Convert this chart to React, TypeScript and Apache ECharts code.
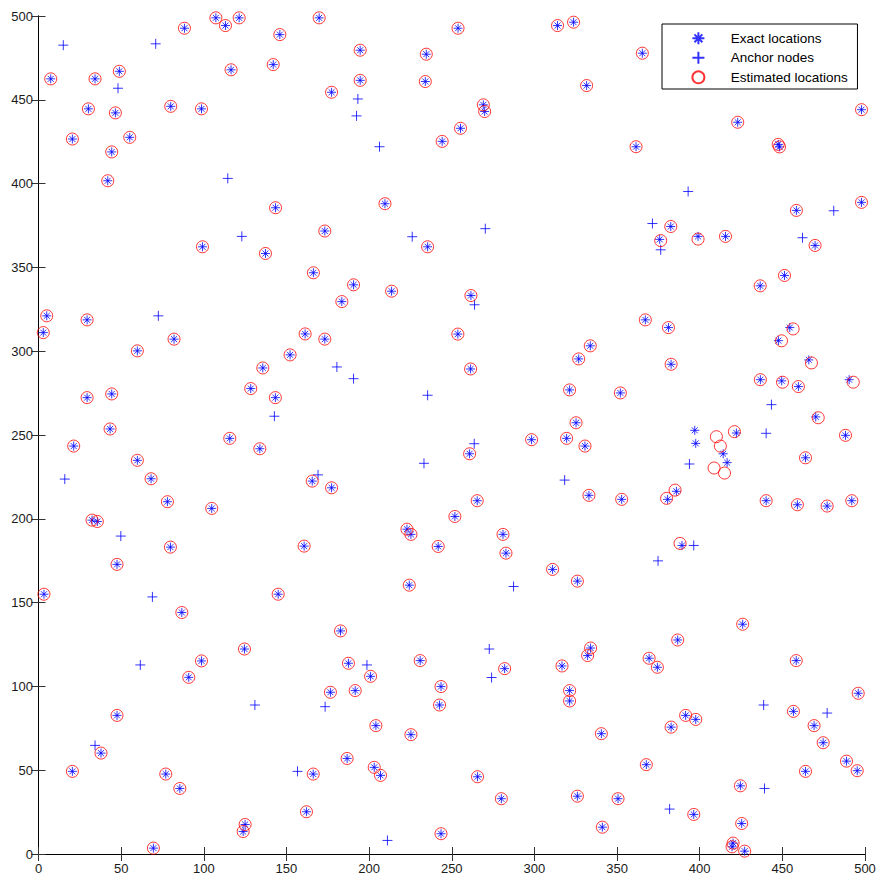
import { useEffect, useRef } from "react";
import * as echarts from "echarts";

const xTicks = [0, 50, 100, 150, 200, 250, 300, 350, 400, 450, 500];
const yTicks = [0, 50, 100, 150, 200, 250, 300, 350, 400, 450, 500];

const exactLocations: number[][] = [
  [7.4, 462.5], [34.2, 462.5], [48.9, 467.0], [30.2, 444.6], [46.5, 442.2], [20.5, 426.6], [55.2, 427.6], [44.3, 418.9], [41.9, 401.7], [88.3, 492.7],
  [80.0, 446.1], [98.6, 444.6], [107.3, 498.9], [113.1, 494.3], [121.4, 498.9], [146.0, 488.9], [116.5, 467.9], [142.0, 471.0], [143.4, 385.6], [99.2, 362.3],
  [137.3, 358.3], [166.3, 346.8], [169.8, 498.9], [194.6, 479.6], [194.6, 461.6], [177.3, 454.5], [234.6, 477.2], [234.0, 460.9], [253.8, 492.7], [269.1, 447.0],
  [269.9, 443.0], [255.3, 433.0], [244.2, 425.2], [314.0, 494.3], [323.7, 496.3], [331.6, 458.5], [209.6, 388.0], [173.2, 371.7], [235.4, 362.3], [190.6, 339.6],
  [213.6, 335.8], [261.6, 333.2], [365.3, 477.8], [497.9, 444.1], [423.0, 436.6], [361.5, 422.0], [447.5, 423.4], [448.3, 421.9], [497.9, 388.8], [382.5, 374.4],
  [375.8, 366.7], [399.0, 368.5], [415.6, 368.5], [458.5, 384.0], [469.8, 363.1], [451.3, 345.2], [436.6, 339.0],
  [5.0, 321.1], [2.9, 311.1], [29.4, 318.7], [82.0, 307.2], [59.8, 300.2], [29.4, 272.3], [44.3, 274.5], [43.3, 253.6], [21.3, 243.4], [59.8, 234.9],
  [68.1, 223.9], [78.0, 210.2], [32.4, 199.2], [35.6, 198.4], [47.5, 172.8], [79.8, 183.1], [104.8, 206.2], [115.7, 248.0], [128.4, 277.7], [135.7, 290.0],
  [143.3, 272.3], [133.9, 241.8], [152.2, 297.8], [161.3, 310.3], [165.6, 222.5], [160.7, 183.7],
  [183.5, 329.6], [173.2, 307.2], [253.7, 310.2], [261.4, 289.4], [333.8, 303.2], [326.8, 295.4], [321.3, 276.9], [325.2, 257.3], [298.3, 247.2], [319.5, 248.0],
  [330.6, 243.4], [260.8, 238.8], [177.3, 218.5], [333.0, 214.0], [265.4, 210.8], [251.9, 201.4], [222.9, 193.8], [225.3, 190.7], [241.8, 183.5], [281.0, 190.7],
  [282.8, 179.5], [311.0, 169.8], [326.0, 162.8], [224.3, 160.4],
  [367.1, 318.7], [381.1, 314.1], [382.7, 292.2], [352.0, 275.1], [454.5, 314.1], [447.6, 306.3], [466.0, 294.8], [436.7, 283.0], [449.6, 282.3], [459.7, 278.9],
  [490.4, 283.0], [470.2, 260.8], [488.2, 249.8], [464.0, 236.4], [422.2, 251.2], [397.0, 252.8], [397.6, 245.0], [414.2, 238.8], [416.6, 233.5], [352.8, 211.6],
  [380.6, 211.6], [385.9, 216.4], [440.2, 210.8], [459.1, 208.4], [477.1, 207.6], [492.0, 210.8], [389.3, 184.1],
  [3.3, 155.0], [86.7, 144.1], [145.0, 155.0], [124.6, 122.3], [98.6, 115.2], [90.9, 105.4], [47.5, 82.7], [37.8, 60.2], [20.5, 49.3], [77.0, 47.7],
  [85.5, 39.1], [69.5, 3.5], [125.0, 17.6], [123.8, 13.4], [166.2, 47.7], [162.1, 25.2],
  [182.7, 133.1], [187.5, 113.8], [200.9, 106.0], [176.6, 96.5], [191.6, 97.5], [230.9, 115.4], [243.5, 99.9], [242.6, 88.9], [282.0, 110.6], [334.0, 122.9],
  [332.2, 118.4], [316.7, 112.2], [321.3, 97.5], [321.3, 91.3], [340.5, 71.8], [204.1, 76.6], [225.3, 71.2], [186.7, 57.0], [203.1, 51.7], [206.9, 46.9],
  [265.6, 46.1], [280.0, 33.0], [326.0, 34.5], [243.5, 12.1], [341.1, 16.0],
  [350.6, 33.0], [369.4, 116.8], [374.4, 111.4], [386.7, 127.7], [426.0, 137.1], [391.5, 82.7], [397.6, 80.3], [382.7, 75.7], [367.7, 53.3], [396.4, 23.6],
  [424.6, 40.7], [425.4, 18.2], [420.2, 6.5], [419.6, 4.3], [427.2, 1.7], [458.4, 115.4], [456.7, 85.1], [469.2, 76.6], [474.7, 66.4], [488.8, 55.4],
  [464.0, 49.3], [495.3, 49.7], [495.9, 95.9],
];

const anchorNodes: number[][] = [
  [15.0, 482.6], [48.1, 456.9], [70.9, 483.4], [114.5, 403.1], [123.0, 368.5],
  [193.2, 450.5], [192.4, 440.4], [206.3, 422.0], [226.1, 368.3], [270.3, 373.1],
  [393.0, 395.3], [371.4, 376.2], [376.4, 360.5], [481.1, 383.8], [462.2, 367.7],
  [15.9, 223.7], [72.5, 321.1], [49.8, 189.7], [142.7, 261.2], [169.1, 226.2],
  [263.8, 327.7], [180.5, 290.6], [190.6, 283.6], [235.4, 273.7], [263.6, 244.8], [233.2, 233.1], [318.3, 223.1],
  [443.4, 268.1], [440.2, 251.0], [393.8, 232.7], [396.4, 184.1], [374.8, 174.9],
  [68.9, 153.4], [61.6, 112.8], [130.9, 88.9], [34.2, 64.8], [156.7, 49.3], [173.4, 87.9],
  [287.4, 159.6], [198.7, 112.8], [272.7, 122.3], [274.1, 105.3], [211.1, 8.1],
  [381.8, 26.8], [438.7, 88.9], [439.2, 39.1], [477.1, 84.1],
];

const estimatedLocations: number[][] = [
  [7.4, 462.5], [34.2, 462.5], [48.9, 467.0], [30.2, 444.6], [46.5, 442.2], [20.5, 426.6], [55.2, 427.6], [44.3, 418.9], [41.9, 401.7], [88.3, 492.7],
  [80.0, 446.1], [98.6, 444.6], [107.3, 498.9], [113.1, 494.3], [121.4, 498.9], [146.0, 488.9], [116.5, 467.9], [142.0, 471.0], [143.4, 385.6], [99.2, 362.3],
  [137.3, 358.3], [166.3, 346.8], [169.8, 498.9], [194.6, 479.6], [194.6, 461.6], [177.3, 454.5], [234.6, 477.2], [234.0, 460.9], [253.8, 492.7], [269.1, 447.0],
  [269.9, 443.0], [255.3, 433.0], [244.2, 425.2], [314.0, 494.3], [323.7, 496.3], [331.6, 458.5], [209.6, 388.0], [173.2, 371.7], [235.4, 362.3], [190.6, 339.6],
  [213.6, 335.8], [261.6, 333.2], [365.3, 477.8], [497.9, 444.1], [423.0, 436.6], [361.5, 422.0], [447.5, 423.4], [448.3, 421.9], [497.9, 388.8], [382.5, 374.4],
  [376.4, 366.0], [399.0, 366.9], [415.6, 368.5], [458.5, 384.0], [469.8, 363.1], [451.3, 345.2], [436.6, 339.0],
  [5.0, 321.1], [2.9, 311.1], [29.4, 318.7], [82.0, 307.2], [59.8, 300.2], [29.4, 272.3], [44.3, 274.5], [43.3, 253.6], [21.3, 243.4], [59.8, 234.9],
  [68.1, 223.9], [78.0, 210.2], [32.4, 199.2], [35.6, 198.4], [47.5, 172.8], [79.8, 183.1], [104.8, 206.2], [115.7, 248.0], [128.4, 277.7], [135.7, 290.0],
  [143.3, 272.3], [133.9, 241.8], [152.2, 297.8], [161.3, 310.3], [165.6, 222.5], [160.7, 183.7],
  [183.5, 329.6], [173.2, 307.2], [253.7, 310.2], [261.4, 289.4], [333.8, 303.2], [326.8, 295.4], [321.3, 276.9], [325.2, 257.3], [298.3, 247.2], [319.5, 248.0],
  [330.6, 243.4], [260.8, 238.8], [177.3, 218.5], [333.0, 214.0], [265.4, 210.8], [251.9, 201.4], [222.9, 193.8], [225.3, 190.7], [241.8, 183.5], [281.0, 190.7],
  [282.8, 179.5], [311.0, 169.8], [326.0, 162.8], [224.3, 160.4],
  [367.1, 318.7], [381.1, 314.1], [382.7, 292.2], [352.0, 275.1], [456.5, 313.3], [449.5, 306.2], [467.6, 293.0], [436.7, 283.0], [450.1, 281.5], [459.7, 278.9],
  [492.9, 281.5], [471.7, 260.3], [488.2, 249.8], [464.0, 236.4], [421.0, 252.0], [410.1, 249.0], [412.5, 243.4], [408.7, 230.3], [415.0, 227.3], [352.8, 211.6],
  [380.0, 212.2], [385.1, 217.1], [440.2, 210.8], [459.1, 208.4], [477.1, 207.6], [492.0, 210.8], [388.1, 185.3],
  [3.3, 155.0], [86.7, 144.1], [145.0, 155.0], [124.6, 122.3], [98.6, 115.2], [90.9, 105.4], [47.5, 82.7], [37.8, 60.2], [20.5, 49.3], [77.0, 47.7],
  [85.5, 39.1], [69.5, 3.5], [125.0, 17.6], [123.8, 13.4], [166.2, 47.7], [162.1, 25.2],
  [182.7, 133.1], [187.5, 113.8], [200.9, 106.0], [176.6, 96.5], [191.6, 97.5], [230.9, 115.4], [243.5, 99.9], [242.6, 88.9], [282.0, 110.6], [334.0, 122.9],
  [332.2, 118.4], [316.7, 112.2], [321.3, 97.5], [321.3, 91.3], [340.5, 71.8], [204.1, 76.6], [225.3, 71.2], [186.7, 57.0], [203.1, 51.7], [206.9, 46.9],
  [265.6, 46.1], [280.0, 33.0], [326.0, 34.5], [243.5, 12.1], [341.1, 16.0],
  [350.6, 33.0], [369.4, 116.8], [374.4, 111.4], [386.7, 127.7], [426.0, 137.1], [391.5, 82.7], [397.6, 80.3], [382.7, 75.7], [367.7, 53.3], [396.4, 23.6],
  [424.6, 40.7], [425.4, 18.2], [420.2, 6.5], [419.6, 4.3], [427.2, 1.7], [458.4, 115.4], [456.7, 85.1], [469.2, 76.6], [474.7, 66.4], [488.8, 55.4],
  [464.0, 49.3], [495.3, 49.7], [495.9, 95.9],
];

const seriesNames = ["Exact locations", "Anchor nodes", "Estimated locations"];

const STAR = "path://M0,5L10,5M5,0L5,10M1.7,1.7L8.3,8.3M8.3,1.7L1.7,8.3";
const PLUS = "path://M0,5L10,5M5,0L5,10";
const FONT = "Liberation Sans, Arial, sans-serif";
const BLUE = "#0000ff";
const RED = "#ff0000";

export default function App() {
  const ref = useRef<HTMLDivElement>(null);

  useEffect(() => {
    if (!ref.current) return;
    const chart = echarts.init(ref.current, undefined, { renderer: "svg" });

    const xMin = xTicks[0];
    const xMax = xTicks[xTicks.length - 1];
    const xInt = xTicks[1] - xTicks[0];
    const yMin = yTicks[0];
    const yMax = yTicks[yTicks.length - 1];
    const yInt = yTicks[1] - yTicks[0];

    const axisLine = { show: true, lineStyle: { color: "#000", width: 1 } };
    const tick = { show: true, inside: true, length: 7, lineStyle: { color: "#333", width: 1 } };
    const label = { color: "#1a1a1a", fontSize: 13, fontFamily: FONT };

    chart.setOption({
      animation: false,
      backgroundColor: "#fff",
      grid: { left: 38.5, right: 14, top: 16, bottom: 24, containLabel: false },
      xAxis: [
        {
          type: "value", position: "bottom", min: xMin, max: xMax, interval: xInt,
          axisLine, axisTick: tick, splitLine: { show: false },
          axisLabel: { ...label, margin: 8, showMinLabel: true, showMaxLabel: true },
        },
        {
          type: "value", position: "top", min: xMin, max: xMax, interval: xInt,
          axisLine, axisTick: tick, splitLine: { show: false }, axisLabel: { show: false },
        },
      ],
      yAxis: [
        {
          type: "value", position: "left", min: yMin, max: yMax, interval: yInt,
          axisLine, axisTick: tick, splitLine: { show: false },
          axisLabel: { ...label, margin: 5.5, showMinLabel: true, showMaxLabel: true },
        },
        {
          type: "value", position: "right", min: yMin, max: yMax, interval: yInt,
          axisLine, axisTick: tick, splitLine: { show: false }, axisLabel: { show: false },
        },
      ],
      legend: {
        data: seriesNames,
        orient: "vertical",
        left: 662,
        top: 24,
        itemWidth: 12,
        itemHeight: 12,
        itemGap: 5.5,
        padding: [7.3, 9.7, 4.7, 29.4],
        backgroundColor: "#fff",
        borderColor: "#000",
        borderWidth: 1,
        borderRadius: 0,
        selectedMode: false,
        textStyle: { color: "#000", fontSize: 13.5, fontFamily: FONT, padding: [0, 0, 0, 21.3] },
      },
      series: [
        {
          name: seriesNames[0], type: "scatter", data: exactLocations,
          symbol: STAR, symbolSize: 9, symbolKeepAspect: true,
          itemStyle: { color: "rgba(0,0,0,0)", borderColor: BLUE, borderWidth: 1 },
          silent: true, z: 2,
        },
        {
          name: seriesNames[1], type: "scatter", data: anchorNodes,
          symbol: PLUS, symbolSize: 10, symbolKeepAspect: true,
          itemStyle: { color: "rgba(0,0,0,0)", borderColor: BLUE, borderWidth: 1 },
          silent: true, z: 3,
        },
        {
          name: seriesNames[2], type: "scatter", data: estimatedLocations,
          symbol: "circle", symbolSize: 12,
          itemStyle: { color: "rgba(0,0,0,0)", borderColor: RED, borderWidth: 1 },
          silent: true, z: 4,
        },
      ],
    });

    return () => chart.dispose();
  }, []);

  return (
    <div
      ref={ref}
      style={{ position: "fixed", left: 0, top: 0, width: 879, height: 878, background: "#fff" }}
    />
  );
}
